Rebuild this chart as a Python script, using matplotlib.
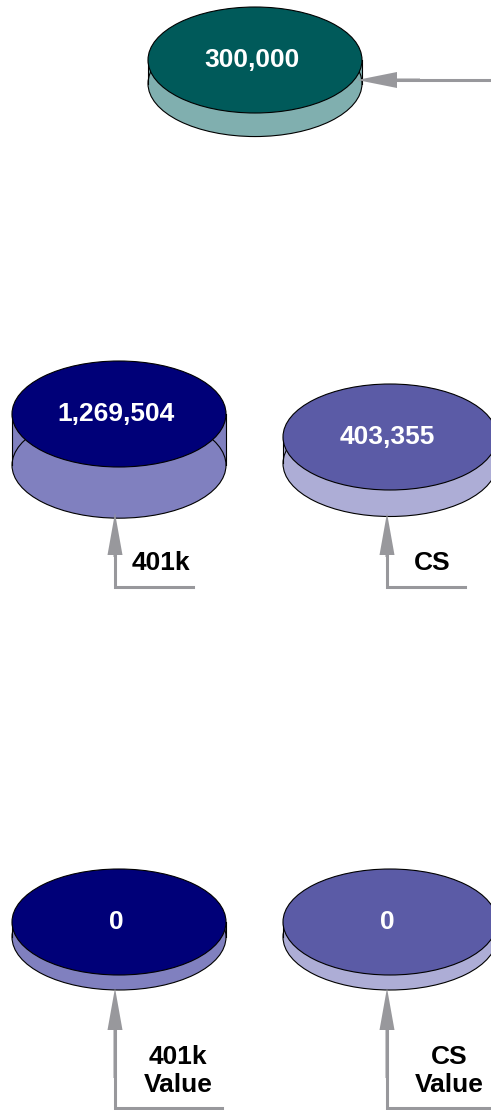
import numpy as np
import matplotlib
matplotlib.use("Agg")
import matplotlib.pyplot as plt
from matplotlib.patches import Ellipse, Rectangle, FancyArrow

plt.rcParams['font.family'] = ['Liberation Sans', 'DejaVu Sans']

# data
names = ["Total", "401k", "CS", "401k Value", "CS Value"]
values = [300000, 1269504, 403355, 0, 0]
labels = ["", "401k", "CS", "401k\nValue", "CS\nValue"]
top_colors = ["#005a5a", "#000078", "#5b5ba6"]
side_colors = ["#80afaf", "#8080bf", "#adadd6"]
color_idx = [0, 1, 2, 1, 2]

# layout (pixel coords, y downwards)
centers = [(255, 60), (119, 414), (390, 437), (119, 922), (390, 922)]
half_w, half_h = 107, 53
base_depth = 15
depth_per_unit = 2.85e-5
gray = "#98989c"
fs = 19

fig = plt.figure(figsize=(4.91, 11.10), dpi=100)
ax = fig.add_axes([0, 0, 1, 1])
ax.set_xlim(0, 491)
ax.set_ylim(1110, 0)
ax.axis("off")


def cylinder(cx, cy, depth, top_c, side_c, text):
    ax.add_patch(Rectangle((cx - half_w, cy), 2 * half_w, depth, facecolor=side_c,
                           edgecolor="none", zorder=1))
    ax.add_patch(Ellipse((cx, cy + depth), 2 * half_w, 2 * half_h, facecolor=side_c,
                         edgecolor="black", lw=0.8, zorder=2))
    ax.plot([cx - half_w, cx - half_w], [cy, cy + depth], color="black", lw=0.8, zorder=3)
    ax.plot([cx + half_w, cx + half_w], [cy, cy + depth], color="black", lw=0.8, zorder=3)
    ax.add_patch(Ellipse((cx, cy), 2 * half_w, 2 * half_h, facecolor=top_c,
                         edgecolor="black", lw=0.8, zorder=4))
    ax.text(cx - 3, cy, text, color="white", fontsize=fs, fontweight="bold",
            ha="center", va="center", zorder=5)


for i, v in enumerate(values):
    cx, cy = centers[i]
    d = base_depth + v * depth_per_unit
    cylinder(cx, cy, d, top_colors[color_idx[i]], side_colors[color_idx[i]], "{:,}".format(v))


def up_arrow(x, tip, bottom, x_end):
    ax.plot([x, x, x_end], [tip + 40, bottom, bottom], color=gray, lw=2.2,
            solid_joinstyle="miter", zorder=6)
    ax.add_patch(FancyArrow(x, bottom - 30, 0, tip - (bottom - 30), width=3,
                            head_width=15, head_length=42, length_includes_head=True,
                            color=gray, lw=0, zorder=7))


# connectors
ax.plot([491, 390], [80, 80], color=gray, lw=2.2, zorder=6)
ax.add_patch(FancyArrow(420, 80, 357 - 420, 0, width=3, head_width=16, head_length=40,
                        length_includes_head=True, color=gray, lw=0, zorder=7))
up_arrow(115, 513, 587, 193)
up_arrow(387, 513, 587, 465)
up_arrow(115, 988, 1108, 222)
up_arrow(387, 988, 1108, 495)

# labels
ax.text(161, 563, labels[1], fontsize=fs, fontweight="bold", ha="center", va="center")
ax.text(432, 563, labels[2], fontsize=fs, fontweight="bold", ha="center", va="center")
ax.text(178, 1071, labels[3], fontsize=fs, fontweight="bold", ha="center", va="center",
        linespacing=1.18)
ax.text(449, 1071, labels[4], fontsize=fs, fontweight="bold", ha="center", va="center",
        linespacing=1.18)

fig.savefig("out.png", dpi=100)
